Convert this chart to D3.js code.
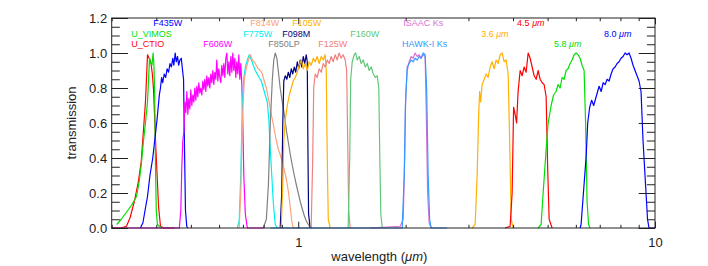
<!DOCTYPE html>
<html>
<head>
<meta charset="utf-8">
<script src="https://cdn.jsdelivr.net/npm/d3@7"></script>
<style>
    body { margin: 0; background: #fff; }
    svg text { font-family: "Liberation Sans", Arial, Helvetica, sans-serif; }
    .axis path { display: none; }
    .axis line { stroke: #222; }
    .axis text { font-size: 13px; fill: #222; }
</style>
</head>
<body>
<svg id="chart" width="708" height="266"></svg>
<script>
// transmission curves, [wavelength (micron), transmission]
const uCtio = [[0.30,0],[0.318,0],[0.330,0.01],[0.338,0.06],[0.347,0.15],[0.356,0.26],[0.363,0.38],[0.368,0.55],[0.373,0.72],[0.378,0.99],[0.382,0.97],[0.386,0.95],[0.390,0.88],[0.393,0.79],[0.396,0.62],[0.399,0.45],[0.402,0.31],[0.406,0.12],[0.411,0.01],[0.42,0],[0.45,0]];
const uVimos = [[0.310,0.02],[0.319,0.05],[0.330,0.09],[0.341,0.13],[0.352,0.18],[0.358,0.26],[0.363,0.36],[0.368,0.49],[0.373,0.60],[0.378,0.72],[0.383,0.97],[0.386,0.94],[0.389,0.93],[0.392,1.0],[0.394,0.93],[0.396,0.75],[0.398,0.35],[0.400,0.1],[0.403,0.02],[0.408,0.01],[0.416,0]];
const f435w = [[0.361,0],[0.367,0.03],[0.372,0.1],[0.378,0.18],[0.384,0.3],[0.391,0.4],[0.397,0.52],[0.402,0.62],[0.408,0.76],[0.411,0.8],[0.414,0.86],[0.417,0.83],[0.421,0.88],[0.425,0.86],[0.429,0.91],[0.433,0.89],[0.437,0.94],[0.441,0.92],[0.445,0.97],[0.448,0.93],[0.452,1.0],[0.455,0.95],[0.459,0.98],[0.462,0.93],[0.466,0.96],[0.470,0.97],[0.474,0.90],[0.477,0.85],[0.480,0.45],[0.483,0.1],[0.487,0.01],[0.49,0]];
const f606w = [[0.30,0],[0.4642,0],[0.4687,0.1],[0.4717,0.35],[0.4748,0.5],[0.4779,0.55],[0.4810,0.72],[0.4841,0.66],[0.4872,0.78],[0.4904,0.65],[0.4935,0.74],[0.4967,0.68],[0.4999,0.79],[0.5032,0.70],[0.5064,0.76],[0.5097,0.72],[0.5130,0.80],[0.5163,0.73],[0.5197,0.81],[0.5230,0.75],[0.5264,0.83],[0.5298,0.77],[0.5332,0.80],[0.5367,0.76],[0.5402,0.84],[0.5437,0.79],[0.5472,0.85],[0.5507,0.78],[0.5543,0.87],[0.5579,0.81],[0.5615,0.86],[0.5651,0.80],[0.5688,0.88],[0.5725,0.83],[0.5762,0.90],[0.5799,0.82],[0.5837,0.89],[0.5874,0.85],[0.5912,0.96],[0.5951,0.84],[0.5989,0.91],[0.6028,0.86],[0.6067,0.83],[0.6106,0.93],[0.6146,0.87],[0.6186,0.94],[0.6226,0.86],[0.6266,0.97],[0.6307,1.0],[0.6348,0.88],[0.6389,0.95],[0.6430,0.87],[0.6472,0.98],[0.6514,0.89],[0.6556,1.0],[0.6598,0.90],[0.6641,0.97],[0.6684,0.86],[0.6727,0.95],[0.6771,0.88],[0.6815,0.99],[0.6859,0.85],[0.6903,0.94],[0.6948,0.82],[0.6993,0.6],[0.7038,0.3],[0.7107,0.08],[0.7199,0],[0.80,0]];
const f775w = [[0.675,0],[0.683,0.04],[0.690,0.3],[0.697,0.7],[0.704,0.86],[0.711,0.92],[0.720,0.96],[0.729,0.99],[0.739,0.96],[0.748,0.93],[0.758,0.90],[0.767,0.88],[0.777,0.86],[0.788,0.84],[0.798,0.80],[0.808,0.76],[0.819,0.72],[0.827,0.62],[0.835,0.45],[0.843,0.3],[0.851,0.15],[0.862,0.02],[0.873,0]];
const f814w = [[0.683,0],[0.690,0.2],[0.697,0.6],[0.706,0.85],[0.716,0.92],[0.725,0.96],[0.734,0.99],[0.743,0.96],[0.753,0.95],[0.762,0.93],[0.772,0.91],[0.783,0.90],[0.793,0.88],[0.803,0.84],[0.814,0.80],[0.825,0.74],[0.835,0.68],[0.846,0.62],[0.857,0.56],[0.868,0.50],[0.879,0.45],[0.890,0.42],[0.902,0.38],[0.914,0.33],[0.926,0.28],[0.938,0.21],[0.950,0.12],[0.959,0.04],[0.968,0],[1.013,0]];
const f850lp = [[0.798,0],[0.814,0.05],[0.825,0.25],[0.835,0.6],[0.846,0.85],[0.854,0.96],[0.862,1.0],[0.871,0.97],[0.879,0.9],[0.890,0.8],[0.902,0.72],[0.914,0.65],[0.926,0.56],[0.938,0.49],[0.950,0.42],[0.962,0.36],[0.975,0.30],[0.987,0.25],[1.0,0.2],[1.013,0.15],[1.026,0.11],[1.040,0.07],[1.053,0.04],[1.067,0.02],[1.080,0.005],[1.094,0]];
const f098m = [[0.890,0],[0.899,0.2],[0.905,0.6],[0.911,0.84],[0.920,0.87],[0.929,0.85],[0.938,0.89],[0.947,0.86],[0.956,0.91],[0.965,0.88],[0.975,0.92],[0.984,0.89],[0.994,0.95],[1.003,0.91],[1.013,0.96],[1.023,0.92],[1.033,0.98],[1.043,0.94],[1.053,0.99],[1.060,0.95],[1.064,0.5],[1.069,0.08],[1.080,0]];
const f105w = [[0.896,0],[0.905,0.25],[0.911,0.5],[0.920,0.62],[0.932,0.70],[0.944,0.76],[0.956,0.80],[0.968,0.84],[0.981,0.86],[0.994,0.89],[1.006,0.93],[1.020,0.96],[1.033,0.91],[1.046,0.94],[1.060,0.90],[1.073,0.95],[1.087,0.93],[1.102,0.97],[1.116,0.95],[1.130,0.98],[1.145,0.94],[1.160,0.98],[1.175,0.96],[1.190,0.99],[1.198,0.9],[1.206,0.4],[1.214,0.05],[1.229,0]];
const f125w = [[1.087,0],[1.098,0.4],[1.105,0.8],[1.116,0.88],[1.130,0.86],[1.145,0.91],[1.160,0.89],[1.175,0.94],[1.190,0.92],[1.206,0.96],[1.221,0.94],[1.237,0.98],[1.253,0.95],[1.269,0.99],[1.286,0.96],[1.302,1.0],[1.319,0.97],[1.336,0.99],[1.354,0.96],[1.367,0.9],[1.376,0.5],[1.385,0.1],[1.398,0]];
const f160w = [[1.380,0],[1.394,0.4],[1.403,0.85],[1.417,0.95],[1.435,0.99],[1.449,1.0],[1.463,0.96],[1.482,0.98],[1.501,0.94],[1.521,0.96],[1.541,0.92],[1.561,0.94],[1.581,0.90],[1.602,0.92],[1.623,0.88],[1.644,0.86],[1.665,0.87],[1.682,0.8],[1.693,0.4],[1.704,0.08],[1.720,0]];
const isaacKs = [[1.591,0],[1.931,0.01],[1.969,0.05],[1.988,0.4],[2.001,0.75],[2.020,0.9],[2.046,0.95],[2.072,0.98],[2.099,0.97],[2.126,1.0],[2.154,0.98],[2.182,0.99],[2.210,0.97],[2.239,0.99],[2.268,0.98],[2.283,0.7],[2.305,0.2],[2.328,0.03],[2.358,0]];
const hawkiKs = [[0.835,0],[1.956,0],[1.982,0.3],[1.997,0.7],[2.020,0.92],[2.046,0.94],[2.072,0.96],[2.099,0.95],[2.126,0.97],[2.154,0.96],[2.182,0.98],[2.210,0.97],[2.239,1.0],[2.268,0.99],[2.290,0.8],[2.313,0.3],[2.335,0.05],[2.358,0],[2.614,0]];
const irac1 = [[3.072,0],[3.132,0.02],[3.173,0.3],[3.204,0.65],[3.225,0.78],[3.246,0.72],[3.277,0.82],[3.320,0.85],[3.363,0.88],[3.406,0.86],[3.451,0.92],[3.495,0.95],[3.541,0.91],[3.587,0.96],[3.634,0.94],[3.681,0.99],[3.729,1.0],[3.777,0.95],[3.826,0.96],[3.876,0.88],[3.914,0.5],[3.952,0.05],[4.003,0]];
const irac2 = [[3.80,0],[3.926,0.01],[3.977,0.2],[4.015,0.69],[4.054,0.65],[4.093,0.6],[4.133,0.78],[4.188,0.9],[4.242,0.87],[4.297,0.92],[4.353,0.89],[4.410,1.0],[4.467,0.97],[4.525,0.92],[4.584,0.87],[4.644,0.85],[4.704,0.90],[4.764,0.85],[4.827,0.83],[4.889,0.82],[4.953,0.75],[5.001,0.35],[5.050,0.05],[5.148,0]];
const irac3 = [[4.704,0],[4.795,0.02],[4.858,0.2],[4.953,0.45],[5.017,0.6],[5.115,0.7],[5.197,0.76],[5.282,0.78],[5.351,0.82],[5.420,0.80],[5.491,0.86],[5.562,0.85],[5.634,0.90],[5.708,0.91],[5.781,0.94],[5.856,0.96],[5.933,0.99],[6.010,1.0],[6.088,0.99],[6.166,0.97],[6.246,0.93],[6.328,0.9],[6.389,0.6],[6.451,0.15],[6.514,0.02],[6.577,0]];
const irac4 = [[6.166,0],[6.206,0.02],[6.311,0.22],[6.413,0.41],[6.476,0.6],[6.560,0.69],[6.645,0.73],[6.731,0.70],[6.818,0.74],[6.884,0.77],[6.973,0.81],[7.064,0.78],[7.155,0.83],[7.248,0.82],[7.342,0.85],[7.437,0.84],[7.533,0.88],[7.631,0.91],[7.730,0.92],[7.830,0.94],[7.931,0.95],[8.034,0.97],[8.138,0.98],[8.244,1.0],[8.350,0.99],[8.459,1.0],[8.568,0.97],[8.679,0.93],[8.791,0.90],[8.905,0.87],[9.021,0.84],[9.138,0.78],[9.256,0.5],[9.407,0.25],[9.529,0.05],[9.621,0],[10,0]];

// drawing order, bottom to top
const curveNames = ['U_CTIO', 'U_VIMOS', 'F435W', 'F606W', 'F775W', 'F814W', 'F850LP', 'F098M', 'F105W', 'F125W', 'F160W', 'ISAAC Ks', 'HAWK-I Ks', '3.6 μm', '4.5 μm', '5.8 μm', '8.0 μm'];
const curveData = [uCtio, uVimos, f435w, f606w, f775w, f814w, f850lp, f098m, f105w, f125w, f160w, isaacKs, hawkiKs, irac1, irac2, irac3, irac4];

const xMajorTicks = [1, 10];
const xMinorTicks = [0.3, 0.4, 0.5, 0.6, 0.7, 0.8, 0.9, 2, 3, 4, 5, 6, 7, 8, 9];
const yMajorTicks = [0, 0.2, 0.4, 0.6, 0.8, 1.0, 1.2];
const yMinorTicks = d3.range(0, 1.2001, 0.05);

const colors = {
    'U_CTIO': '#ff0000', 'U_VIMOS': '#00dd00', 'F435W': '#0000ff', 'F606W': '#ff00ff',
    'F775W': '#00eeee', 'F814W': '#ffa07a', 'F850LP': '#808080', 'F098M': '#000080',
    'F105W': '#ffb000', 'F125W': '#f08080', 'F160W': '#60c878', 'ISAAC Ks': '#da70d6',
    'HAWK-I Ks': '#3399ff', '3.6 μm': '#ffb000', '4.5 μm': '#ff0000', '5.8 μm': '#00e000',
    '8.0 μm': '#0000ff',
};

// label anchor: [wavelength at left edge, text row]
const labelLayout = {
    'F435W': [0.3925, 0], 'U_VIMOS': [0.3405, 1], 'U_CTIO': [0.3405, 2], 'F606W': [0.5418, 2],
    'F814W': [0.734, 0], 'F105W': [0.962, 0], 'F775W': [0.7016, 1], 'F098M': [0.902, 1],
    'F850LP': [0.824, 2], 'F125W': [1.1375, 2], 'F160W': [1.3981, 1], 'ISAAC Ks': [1.968, 0],
    'HAWK-I Ks': [1.955, 2], '3.6 μm': [3.256, 1], '4.5 μm': [4.107, 0], '5.8 μm': [5.213, 2],
    '8.0 μm': [7.197, 1],
};
const labelRows = [1.152, 1.094, 1.036];

const plot = { left: 111.7, right: 655, top: 18, bottom: 228 };
const majorY = 16.3, minorY = 8.1, majorX = 6.3, minorX = 3.2;

const svg = d3.select('#chart');

const x = d3.scaleLog().domain([0.3, 10]).range([plot.left, plot.right]);
const y = d3.scaleLinear().domain([0, 1.2]).range([plot.bottom, plot.top]);

svg.append('defs').append('clipPath').attr('id', 'clip')
    .append('rect')
        .attr('x', plot.left - 1).attr('y', plot.top)
        .attr('width', plot.right - plot.left + 2).attr('height', plot.bottom - plot.top + 1);

const line = d3.line().x(d => x(d[0])).y(d => y(d[1]));

svg.append('g')
    .attr('clip-path', 'url(#clip)')
    .selectAll('path')
        .data(curveNames)
        .enter()
            .append('path')
                .attr('d', (name, i) => line(curveData[i]))
                .attr('fill', 'none')
                .attr('stroke', name => colors[name])
                .attr('stroke-width', 1.2)
                .attr('stroke-linejoin', 'round');

// axes: ticks on all four sides pointing inward, like the IDL original
const addAxis = (axis, transform) => svg.append('g').attr('class', 'axis').attr('transform', transform).call(axis);

addAxis(d3.axisBottom(x).tickValues(xMinorTicks).tickSize(-minorX).tickFormat(''), `translate(0,${plot.bottom})`);
addAxis(d3.axisBottom(x).tickValues(xMajorTicks).tickSize(-majorX).tickPadding(10).tickFormat(d3.format('d')), `translate(0,${plot.bottom})`);
addAxis(d3.axisTop(x).tickValues(xMinorTicks).tickSize(-minorX).tickFormat(''), `translate(0,${plot.top})`);
addAxis(d3.axisTop(x).tickValues(xMajorTicks).tickSize(-majorX).tickFormat(''), `translate(0,${plot.top})`);
addAxis(d3.axisLeft(y).tickValues(yMinorTicks).tickSize(-minorY).tickFormat(''), `translate(${plot.left},0)`);
addAxis(d3.axisLeft(y).tickValues(yMajorTicks).tickSize(-majorY).tickPadding(4.5).tickFormat(d3.format('.1f')), `translate(${plot.left},0)`);
addAxis(d3.axisRight(y).tickValues(yMinorTicks).tickSize(-minorY).tickFormat(''), `translate(${plot.right},0)`);
addAxis(d3.axisRight(y).tickValues(yMajorTicks).tickSize(-majorY).tickFormat(''), `translate(${plot.right},0)`);

svg.append('rect')
    .attr('x', plot.left).attr('y', plot.top)
    .attr('width', plot.right - plot.left).attr('height', plot.bottom - plot.top)
    .attr('fill', 'none').attr('stroke', '#222').attr('stroke-width', 1);

// filter labels
const labels = svg.append('g')
    .selectAll('text')
        .data(curveNames)
        .enter()
            .append('text')
                .attr('x', name => x(labelLayout[name][0]))
                .attr('y', name => y(labelRows[labelLayout[name][1]]))
                .attr('fill', name => colors[name])
                .attr('font-size', 9);

labels.each(function(name) {
    const t = d3.select(this);
    if (name.endsWith('μm')) {
        t.append('tspan').text(name.replace('μm', ''));
        t.append('tspan').attr('font-style', 'italic').text('μm');
    } else {
        t.text(name);
    }
});

// axis titles
svg.append('text')
    .attr('transform', `translate(76,${(plot.top + plot.bottom) / 2}) rotate(-90)`)
    .attr('text-anchor', 'middle')
    .attr('font-size', 13).attr('fill', '#222')
    .text('transmission');

const xTitle = svg.append('text')
    .attr('x', (plot.left + plot.right) / 2 - 4).attr('y', 261)
    .attr('text-anchor', 'middle')
    .attr('font-size', 13).attr('fill', '#222');
xTitle.append('tspan').text('wavelength (');
xTitle.append('tspan').attr('font-style', 'italic').text('μm');
xTitle.append('tspan').text(')');
</script>
</body>
</html>
